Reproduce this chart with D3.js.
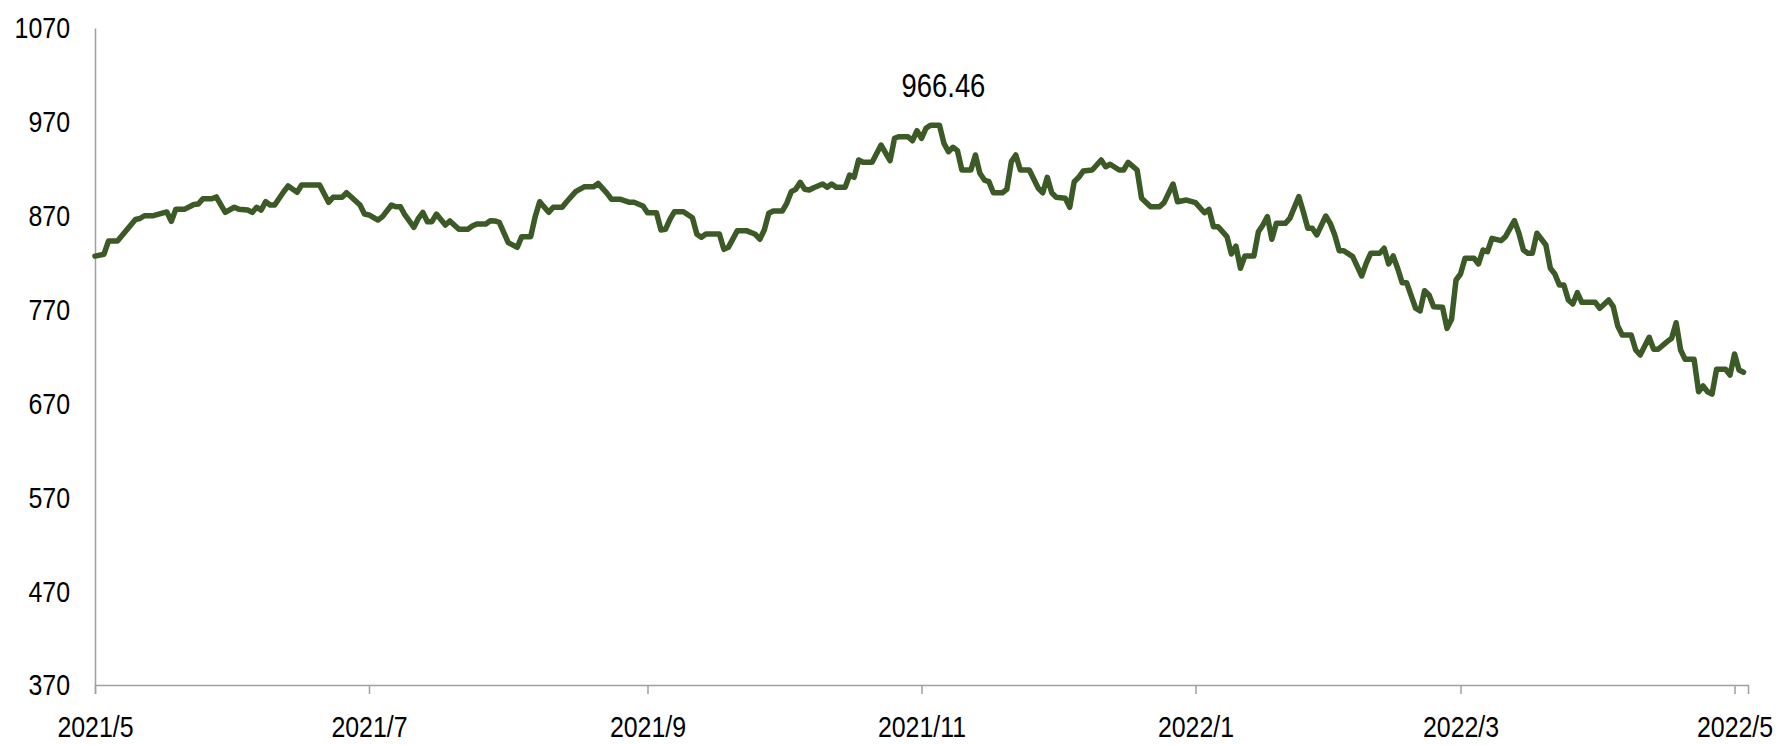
<!DOCTYPE html>
<html>
<head>
<meta charset="utf-8">
<script src="https://cdn.jsdelivr.net/npm/d3@7"></script>
<style>
  body { margin: 0; background: #fff; }
  svg text { font-family: "Liberation Sans", Arial, sans-serif; fill: #000; }
</style>
</head>
<body>
<script>
// index level readings, one per date
const dates = [
  "2021-05-01","2021-05-03","2021-05-04","2021-05-06","2021-05-10","2021-05-11","2021-05-12","2021-05-14","2021-05-17","2021-05-18",
  "2021-05-19","2021-05-21","2021-05-23","2021-05-24","2021-05-25","2021-05-27","2021-05-28","2021-05-30","2021-06-01","2021-06-02",
  "2021-06-04","2021-06-05","2021-06-06","2021-06-07","2021-06-08","2021-06-09","2021-06-10","2021-06-12","2021-06-13","2021-06-15",
  "2021-06-16","2021-06-20","2021-06-22","2021-06-23","2021-06-25","2021-06-26","2021-06-29","2021-06-30","2021-07-01","2021-07-03",
  "2021-07-04","2021-07-06","2021-07-07","2021-07-08","2021-07-09","2021-07-11","2021-07-12","2021-07-13","2021-07-14","2021-07-15",
  "2021-07-16","2021-07-18","2021-07-19","2021-07-21","2021-07-23","2021-07-24","2021-07-25","2021-07-27","2021-07-28","2021-07-29",
  "2021-07-30","2021-08-01","2021-08-03","2021-08-04","2021-08-06","2021-08-07","2021-08-08","2021-08-10","2021-08-11","2021-08-13",
  "2021-08-14","2021-08-16","2021-08-18","2021-08-20","2021-08-21","2021-08-23","2021-08-24","2021-08-26","2021-08-28","2021-08-29",
  "2021-08-31","2021-09-01","2021-09-03","2021-09-04","2021-09-05","2021-09-06","2021-09-07","2021-09-09","2021-09-11","2021-09-12",
  "2021-09-13","2021-09-14","2021-09-17","2021-09-18","2021-09-19","2021-09-21","2021-09-23","2021-09-25","2021-09-26","2021-09-27",
  "2021-09-28","2021-09-29","2021-10-01","2021-10-02","2021-10-03","2021-10-04","2021-10-05","2021-10-06","2021-10-07","2021-10-08",
  "2021-10-10","2021-10-11","2021-10-12","2021-10-13","2021-10-15","2021-10-16","2021-10-17","2021-10-18","2021-10-19","2021-10-21",
  "2021-10-23","2021-10-25","2021-10-26","2021-10-27","2021-10-29","2021-10-30","2021-10-31","2021-11-01","2021-11-02","2021-11-03",
  "2021-11-05","2021-11-06","2021-11-07","2021-11-08","2021-11-09","2021-11-10","2021-11-12","2021-11-13","2021-11-14","2021-11-15",
  "2021-11-16","2021-11-17","2021-11-19","2021-11-20","2021-11-21","2021-11-22","2021-11-23","2021-11-25","2021-11-27","2021-11-28",
  "2021-11-29","2021-11-30","2021-12-01","2021-12-03","2021-12-04","2021-12-05","2021-12-06","2021-12-07","2021-12-09","2021-12-11",
  "2021-12-12","2021-12-13","2021-12-15","2021-12-16","2021-12-17","2021-12-19","2021-12-20","2021-12-22","2021-12-24","2021-12-25",
  "2021-12-27","2021-12-28","2021-12-30","2022-01-01","2022-01-03","2022-01-04","2022-01-05","2022-01-06","2022-01-08","2022-01-09",
  "2022-01-10","2022-01-11","2022-01-12","2022-01-14","2022-01-15","2022-01-16","2022-01-17","2022-01-18","2022-01-19","2022-01-21",
  "2022-01-22","2022-01-24","2022-01-25","2022-01-26","2022-01-27","2022-01-28","2022-01-30","2022-01-31","2022-02-01","2022-02-02",
  "2022-02-03","2022-02-05","2022-02-07","2022-02-08","2022-02-09","2022-02-11","2022-02-12","2022-02-13","2022-02-14","2022-02-15",
  "2022-02-16","2022-02-17","2022-02-19","2022-02-20","2022-02-21","2022-02-22","2022-02-23","2022-02-25","2022-02-26","2022-02-27",
  "2022-02-28","2022-03-01","2022-03-02","2022-03-04","2022-03-05","2022-03-06","2022-03-07","2022-03-08","2022-03-10","2022-03-11",
  "2022-03-13","2022-03-14","2022-03-15","2022-03-16","2022-03-17","2022-03-18","2022-03-20","2022-03-21","2022-03-22","2022-03-23",
  "2022-03-24","2022-03-25","2022-03-26","2022-03-27","2022-03-28","2022-03-31","2022-04-01","2022-04-03","2022-04-04","2022-04-05",
  "2022-04-06","2022-04-08","2022-04-09","2022-04-10","2022-04-12","2022-04-13","2022-04-14","2022-04-16","2022-04-17","2022-04-18",
  "2022-04-19","2022-04-20","2022-04-22","2022-04-23","2022-04-24","2022-04-25","2022-04-26","2022-04-27","2022-04-29","2022-04-30",
  "2022-05-01","2022-05-02","2022-05-03"
];

const values = [
  827, 829, 843, 843, 866, 867, 870, 870, 874, 864,
  877, 877, 882, 882.5, 888, 888, 890, 873.6, 879, 877,
  876, 873.6, 879, 876, 885, 881.4, 881.4, 895.6, 901.7, 895,
  902.7, 902.7, 884.3, 889.6, 889.6, 894.5, 881.4, 871.8, 870.8, 865.4,
  869, 881.4, 879.6, 879.6, 870.8, 857.7, 867.2, 873.6, 863.6, 863.6,
  871.8, 860.1, 864.4, 855.5, 855.5, 859, 861.2, 861.2, 864.7, 864.4,
  863, 841.3, 836.3, 847.7, 847.7, 869, 884.9, 873.6, 879, 879,
  884.9, 895.6, 900.9, 900.9, 904.5, 893.9, 887.5, 887.5, 884.3, 884.3,
  880.4, 873.2, 873.2, 854.8, 855.5, 866.2, 874.3, 874.3, 867.9, 850.2,
  847, 850.5, 850.5, 834.2, 836.3, 854.1, 854.1, 850.2, 844.9, 854.8,
  872.6, 875, 875, 883.2, 895.6, 898.1, 905.6, 898.1, 897.4, 899.8,
  903.8, 900.3, 903.8, 900.3, 900.3, 913.4, 910.9, 929.4, 926.9, 926.9,
  945.3, 928.6, 952.5, 954.2, 954.2, 949.9, 960.6, 952.5, 963.1, 966.46,
  966.46, 947.1, 938.2, 942.9, 939.3, 918.7, 918.7, 934.7, 915.2, 908,
  906.3, 894.5, 894.5, 898.1, 927.6, 934.7, 918.7, 918.7, 899.2, 894.5,
  910.9, 894.5, 889.6, 888.5, 879, 906.3, 910.9, 917.6, 918.7, 929.4,
  922.2, 924.8, 918.7, 918.7, 926.9, 918.7, 888.5, 879.6, 879.6, 883.9,
  903.8, 884.9, 886.7, 883.9, 873.2, 876.8, 858.3, 858.3, 847.7, 829.2,
  837.7, 814, 827.1, 827.1, 853, 860.1, 869, 844.9, 861.9, 861.9,
  867.2, 890.3, 874.3, 856.6, 856.6, 849.5, 869.7, 861.9, 849.5, 832.7,
  832.7, 826.4, 805.8, 819.3, 830, 830, 835.3, 818.6, 827.1, 814,
  798.7, 798.7, 771.4, 768.5, 790.1, 785.5, 773.1, 772.4, 750, 759.6,
  801.5, 807.9, 824.6, 824.6, 818.6, 833.5, 831.7, 845.9, 843.4, 847.7,
  864.7, 851.3, 833.5, 830, 830, 851.3, 838.8, 814, 807.9, 796.2,
  796.2, 780.2, 775.9, 788, 777.7, 777.7, 771.4, 780.2, 773.1, 752.5,
  742.9, 742.9, 726.9, 721.6, 740.5, 727.7, 727.7, 735.8, 739.4, 756,
  726.9, 717, 717, 682.5, 688.6, 682.5, 680, 706.4, 706.4, 700.3,
  722.7, 705.6, 703.2
];

const yTicks = [370, 470, 570, 670, 770, 870, 970, 1070];
const xTickDates = ["2021-05-01", "2021-07-01", "2021-09-01", "2021-11-01", "2022-01-01", "2022-03-01", "2022-05-01"];
const xDomain = ["2021-05-01", "2022-05-04"];

const width = 1781;
const height = 745;
const lineColor = "#3b5a26";
const axisColor = "#a0a0a0";
const squeeze = 0.83; // the source font is narrow

const parse = d3.timeParse("%Y-%m-%d");
const data = dates.map((d, i) => ({ date: parse(d), value: values[i] }));

const svg = d3.select("body").append("svg")
    .attr("width", width)
    .attr("height", height);

svg.append("rect")
    .attr("width", width)
    .attr("height", height)
    .attr("fill", "#fff");

const x = d3.scaleTime()
    .domain(xDomain.map(parse))
    .range([95, 1748]);

const y = d3.scaleLinear()
    .domain([370, 1070])
    .range([685, 28]);

// make text narrower like the original font
function narrow(sel) {
    sel.each(function() {
        const len = this.getComputedTextLength();
        d3.select(this)
            .attr("textLength", len * squeeze)
            .attr("lengthAdjust", "spacingAndGlyphs");
    });
}

// y axis
const yAxis = svg.append("g")
    .attr("transform", `translate(${x.range()[0]},0)`)
    .call(d3.axisLeft(y)
        .tickValues(yTicks)
        .tickFormat(d3.format("d"))
        .tickSize(0)
        .tickPadding(25));
yAxis.select(".domain").attr("stroke", axisColor).attr("stroke-width", 1.5);
yAxis.selectAll(".tick text")
    .attr("dy", "0.33em")
    .style("font-size", "30px")
    .call(narrow);

// x axis
const xAxis = svg.append("g")
    .attr("transform", `translate(0,${y.range()[0]})`)
    .call(d3.axisBottom(x)
        .tickValues(xTickDates.map(parse))
        .tickFormat(d3.timeFormat("%Y/%-m"))
        .tickSizeOuter(0)
        .tickSize(9)
        .tickPadding(22));
xAxis.select(".domain").attr("stroke", axisColor).attr("stroke-width", 1.5);
xAxis.selectAll(".tick line").attr("stroke", axisColor).attr("stroke-width", 1.5);
xAxis.selectAll(".tick text")
    .attr("dy", "0.71em")
    .style("font-size", "30px")
    .call(narrow);

// series line
const line = d3.line()
    .x(d => x(d.date))
    .y(d => y(d.value));

svg.append("path")
    .datum(data)
    .attr("fill", "none")
    .attr("stroke", lineColor)
    .attr("stroke-width", 5.5)
    .attr("stroke-linejoin", "round")
    .attr("stroke-linecap", "round")
    .attr("d", line);

// label for the high point
const maxValue = d3.max(values);
const peak = data[values.lastIndexOf(maxValue)];
svg.append("text")
    .attr("x", x(peak.date) + 4)
    .attr("y", y(peak.value) - 28)
    .attr("text-anchor", "middle")
    .style("font-size", "33px")
    .text(maxValue.toFixed(2))
    .call(narrow);
</script>
</body>
</html>
